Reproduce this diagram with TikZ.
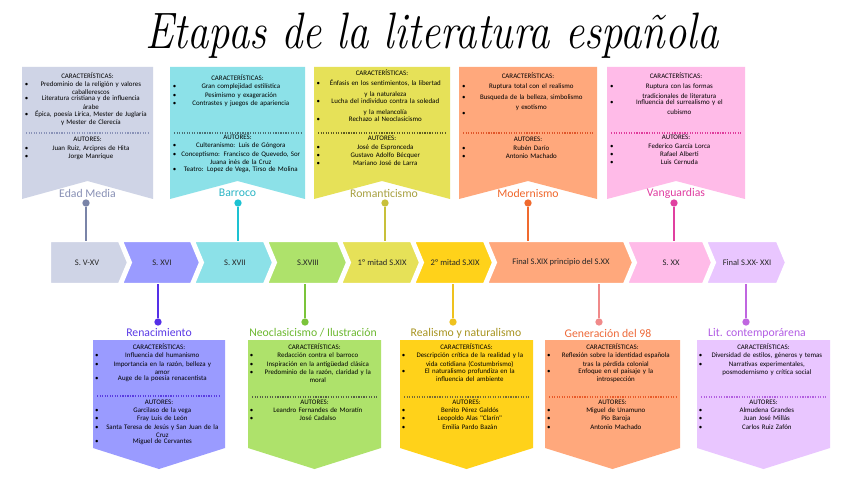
\documentclass[tikz,border=0pt]{standalone}
\usepackage{fontspec}
\usepackage{graphicx}
\usepackage{tikz}
\usepackage{xcolor}
\usetikzlibrary{positioning}
\newfontfamily\bodyfont{Carlito}

\definecolor{fEdad}{HTML}{CFD4E6}
\definecolor{fRena}{HTML}{9A9BFF}
\definecolor{fBarr}{HTML}{8CE1E8}
\definecolor{fNeo}{HTML}{AEE26B}
\definecolor{fRom}{HTML}{E6E158}
\definecolor{fReal}{HTML}{FFD21A}
\definecolor{fMod}{HTML}{FFA87C}
\definecolor{fVan}{HTML}{FFBBE8}
\definecolor{fLit}{HTML}{E9C6FF}

\definecolor{tEdad}{HTML}{8890B5}
\definecolor{tBarr}{HTML}{2BB5C5}
\definecolor{tRom}{HTML}{A8A040}
\definecolor{tMod}{HTML}{F0662A}
\definecolor{tVan}{HTML}{E03CA0}
\definecolor{tRena}{HTML}{5A3AE6}
\definecolor{tNeo}{HTML}{6CB830}
\definecolor{tReal}{HTML}{A89420}
\definecolor{tGen}{HTML}{EE6A3A}
\definecolor{tLit}{HTML}{B25CE4}

\definecolor{pEdad}{HTML}{7A84A8}
\definecolor{pBarr}{HTML}{1DC2D2}
\definecolor{pRom}{HTML}{C8C03A}
\definecolor{pMod}{HTML}{F06A2E}
\definecolor{pVan}{HTML}{E040A0}
\definecolor{pRena}{HTML}{5530E8}
\definecolor{pNeo}{HTML}{7BC43A}
\definecolor{pReal}{HTML}{EFC21E}
\definecolor{pGen}{HTML}{F08A8A}
\definecolor{pLit}{HTML}{C066E0}

\definecolor{sEdad}{HTML}{8A93B8}
\definecolor{sBarr}{HTML}{4A6F75}
\definecolor{sRom}{HTML}{5E5A20}
\definecolor{sMod}{HTML}{E0552A}
\definecolor{sVan}{HTML}{E03C9C}
\definecolor{sRena}{HTML}{5A3CE0}
\definecolor{sNeo}{HTML}{555F45}
\definecolor{sReal}{HTML}{7A6A30}
\definecolor{sGen}{HTML}{E85A2A}
\definecolor{sLit}{HTML}{B35FE0}

% bullet line: bullet on the left, text centred
\newcommand{\itm}[1]{\hbox to\linewidth{\makebox[5pt][l]{\textbullet}\parbox[t]{\dimexpr\linewidth-5pt\relax}{\centering #1}}}

\begin{document}
\begin{tikzpicture}[
    x=0.75pt, y=-0.75pt,
    chev/.style={draw=white, line width=1.6pt, line join=miter},
    tl/.style={font=\bodyfont\fontsize{6.4}{7}\selectfont, text=black!85, minimum height=32.25pt, inner sep=0pt},
    body/.style={font=\bodyfont\fontsize{5.2}{6.2}\selectfont, anchor=north, inner sep=0pt, align=center, text=black},
    sepline/.style={densely dotted, line width=0.9pt},
    lab/.style={font=\bodyfont\fontsize{8.8}{10}\selectfont},
    punto/.style={circle, inner sep=0pt, minimum size=5.5pt},
    poste/.style={line width=1.1pt}
]
\fill[white] (0,0) rectangle (848,477);
\useasboundingbox (0,0) rectangle (848,477);

\node[font=\fontsize{32}{36}\selectfont\itshape] (titulo) at (432,36) {\scalebox{1}[1.2]{Etapas de la literatura española}};

% linea de tiempo
\path[chev, fill=fEdad] (50,241) -- (119,241) -- (128,262.5) -- (119,284) -- (50,284) -- cycle;
\path[chev, fill=fRena] (122,241) -- (191,241) -- (200,262.5) -- (191,284) -- (122,284) -- (131,262.5) -- cycle;
\path[chev, fill=fBarr] (194,241) -- (264,241) -- (273,262.5) -- (264,284) -- (194,284) -- (203,262.5) -- cycle;
\path[chev, fill=fNeo] (267,241) -- (338,241) -- (347,262.5) -- (338,284) -- (267,284) -- (276,262.5) -- cycle;
\path[chev, fill=fRom] (341,241) -- (411,241) -- (420,262.5) -- (411,284) -- (341,284) -- (350,262.5) -- cycle;
\path[chev, fill=fReal] (414,241) -- (484,241) -- (493,262.5) -- (484,284) -- (414,284) -- (423,262.5) -- cycle;
\path[chev, fill=fMod] (487,241) -- (624,241) -- (633,262.5) -- (624,284) -- (487,284) -- (496,262.5) -- cycle;
\path[chev, fill=fVan] (627,241) -- (703,241) -- (712,262.5) -- (703,284) -- (627,284) -- (636,262.5) -- cycle;
\path[chev, fill=fLit] (706,241) -- (777,241) -- (786,262.5) -- (777,284) -- (706,284) -- (715,262.5) -- cycle;

\node[tl] (s1) at (87,262.5) {S. V-XV};
\node[tl] (s2) at (162,262.5) {S. XVI};
\node[tl] (s3) at (235,262.5) {S. XVII};
\node[tl] (s4) at (308,262.5) {S.XVIII};
\node[tl] (s5) at (382,262.5) {1º mitad S.XIX};
\node[tl] (s6) at (455,262.5) {2º mitad S.XIX};
\node[tl] (s7) at (561,262.5) {Final S.XIX principio del S.XX};
\node[tl] (s8) at (671,262.5) {S. XX};
\node[tl] (s9) at (747,262.5) {Final S.XX- XXI};

% Edad Media
\path[fill=fEdad] (22,67) -- (153,67) -- (153,199) -- (87.5,181) -- (22,199) -- cycle;
\node[body, text width=94pt] (emcar) at (87.5,72) {CARACTERÍSTICAS:\par
  \itm{Predominio de la religión y valores\\caballerescos}
  \itm{Literatura cristiana y de influencia\\árabe}
  \itm{Épica, poesía Lírica, Mester de Juglaría\\y Mester de Clerecía}};
\draw[sepline, draw=sEdad] (26,133) -- (150,133);
\node[body, text width=94pt] (emaut) at (87.5,137) {AUTORES:\par
  \itm{Juan Ruiz, Arcipres de Hita}
  \itm{Jorge Manrique}};
\node[lab, text=tEdad] (edad) at (87.5,193) {Edad Media};
\node[punto, fill=pEdad] (pedad) at (86,203) {};
\draw[poste, draw=pEdad] (pedad) -- (pedad |- s1.north);

% Barroco
\path[fill=fBarr] (170,67) -- (305,67) -- (305,199) -- (237.5,181) -- (170,199) -- cycle;
\node[body, text width=97pt, font=\bodyfont\fontsize{5.2}{6.4}\selectfont] (barcar) at (237.5,74) {CARACTERÍSTICAS:\par
  \itm{Gran complejidad estilística}
  \itm{Pesimismo y exageración}
  \itm{Contrastes y juegos de apariencia}};
\draw[sepline, draw=sBarr] (174,133) -- (301,133);
\node[body, text width=97pt, font=\bodyfont\fontsize{5.2}{6.4}\selectfont] (baraut) at (237.5,134.5) {AUTORES:\par
  \itm{Culteranismo: Luis de Góngora}
  \itm{Conceptismo: Francisco de Quevedo, Sor\\Juana inés de la Cruz}
  \itm{Teatro: Lopez de Vega, Tirso de Molina}};
\node[lab, text=tBarr] (barroco) at (237.5,193) {Barroco};
\node[punto, fill=pBarr] (pbarroco) at (238,203) {};
\draw[poste, draw=pBarr] (pbarroco) -- (pbarroco |- s3.north);

% Romanticismo
\path[fill=fRom] (314,67) -- (450,67) -- (450,199) -- (382,181) -- (314,199) -- cycle;
\node[body, text width=98pt, font=\bodyfont\fontsize{5.2}{8}\selectfont] (romcar) at (382,69) {CARACTERÍSTICAS:\par
  \itm{Énfasis en los sentimientos, la libertad\\y la naturaleza}
  \itm{Lucha del individuo contra la soledad\\y la melancolía}
  \itm{Rechazo al Neoclasicismo}};
\draw[sepline, draw=sRom] (318,133) -- (446,133);
\node[body, text width=98pt] (romaut) at (382,136) {AUTORES:\par
  \itm{José de Espronceda}
  \itm{Gustavo Adolfo Bécquer}
  \itm{Mariano José de Larra}};
\node[lab, text=tRom] (romanticismo) at (384,193) {Romanticismo};
\node[punto, fill=pRom] (promanticismo) at (385,203) {};
\draw[poste, draw=pRom] (promanticismo) -- (promanticismo |- s5.north);

% Modernismo
\path[fill=fMod] (459,67) -- (597,67) -- (597,199) -- (528,181) -- (459,199) -- cycle;
\node[body, text width=99pt, font=\bodyfont\fontsize{5.2}{7.8}\selectfont] (modcar) at (528,72.5) {CARACTERÍSTICAS:\par
  \itm{Ruptura total con el realismo}
  \itm{Busqueda de la belleza, simbolismo\\y exotismo}
  \itm{\mbox{}}};
\draw[sepline, draw=sMod] (463,133) -- (593,133);
\node[body, text width=99pt] (modaut) at (528,137) {AUTORES:\par
  \itm{Rubén Darío}
  \itm{Antonio Machado}};
\node[lab, text=tMod] (modernismo) at (528,193) {Modernismo};
\node[punto, fill=pMod] (pmodernismo) at (528,203) {};
\draw[poste, draw=pMod] (pmodernismo) -- (pmodernismo |- s7.north);

% Vanguardias
\path[fill=fVan] (607,67) -- (745,67) -- (745,199) -- (676,181) -- (607,199) -- cycle;
\node[body, text width=99pt, font=\bodyfont\fontsize{5.2}{7.5}\selectfont] (vancar) at (676,72.5) {CARACTERÍSTICAS:\par
  \itm{Ruptura con las formas\\tradicionales de literatura}
  \itm{Influencia del surrealismo y el\\cubismo}};
\draw[sepline, draw=sVan] (611,133) -- (741,133);
\node[body, text width=99pt] (vanaut) at (676,135) {AUTORES:\par
  \itm{Federico García Lorca}
  \itm{Rafael Alberti}
  \itm{Luis Cernuda}};
\node[lab, text=tVan] (vanguardias) at (676,193) {Vanguardias};
\node[punto, fill=pVan] (pvanguardias) at (674,203) {};
\draw[poste, draw=pVan] (pvanguardias) -- (pvanguardias |- s8.north);

% Renacimiento
\node[punto, fill=pRena] (prenacimiento) at (158,322) {};
\draw[poste, draw=pRena] (prenacimiento) -- (prenacimiento |- s2.south);
\node[lab, text=tRena] (renacimiento) at (159,333) {Renacimiento};
\path[fill=fRena] (93,340) -- (225,340) -- (225,448) -- (159,469) -- (93,448) -- cycle;
\node[body, text width=96pt] (rencar) at (159,343.5) {CARACTERÍSTICAS:\par
  \itm{Influencia del humanismo}
  \itm{Importancia en la razón, belleza y\\amor}
  \itm{Auge de la poesía renacentista}};
\draw[sepline, draw=sRena] (97,396) -- (221,396);
\node[body, text width=96pt] (renaut) at (159,399.5) {AUTORES:\par
  \itm{Garcilaso de la vega}
  \itm{Fray Luis de León}
  \itm{Santa Teresa de Jesús y San Juan de la\\Cruz}
  \itm{Miguel de Cervantes}};

% Neoclasicismo
\node[punto, fill=pNeo] (pneoclasicismo) at (305,322) {};
\draw[poste, draw=pNeo] (pneoclasicismo) -- (pneoclasicismo |- s4.south);
\node[lab, text=tNeo] (neoclasicismo) at (313,333) {Neoclasicismo / Ilustración};
\path[fill=fNeo] (248,340) -- (381,340) -- (381,448) -- (314.5,469) -- (248,448) -- cycle;
\node[body, text width=97pt] (neocar) at (314.5,343.5) {CARACTERÍSTICAS:\par
  \itm{Redacción contra el barroco}
  \itm{Inspiración en la antigüedad clásica}
  \itm{Predominio de la razón, claridad y la\\moral}};
\draw[sepline, draw=sNeo] (252,397) -- (377,397);
\node[body, text width=97pt] (neoaut) at (314.5,399.5) {AUTORES:\par
  \itm{Leandro Fernandes de Moratín}
  \itm{José Cadalso}};

% Realismo y naturalismo
\node[punto, fill=pReal] (prealismo) at (453,322) {};
\draw[poste, draw=pReal] (prealismo) -- (prealismo |- s6.south);
\node[lab, text=tReal] (realismo) at (466,333) {Realismo y naturalismo};
\path[fill=fReal] (400,340) -- (533,340) -- (533,448) -- (466.5,469) -- (400,448) -- cycle;
\node[body, text width=97pt] (realcar) at (466.5,343.5) {CARACTERÍSTICAS:\par
  \itm{Descripción crítica de la realidad y la\\vida cotidiana (Costumbrismo)}
  \itm{El naturalismo profundiza en la\\influencia del ambiente}};
\draw[sepline, draw=sReal] (404,397) -- (529,397);
\node[body, text width=97pt] (realaut) at (466.5,399.5) {AUTORES:\par
  \itm{Benito Pérez Galdós}
  \itm{Leopoldo Alas "Clarín"}
  \itm{Emilia Pardo Bazán}};

% Generacion del 98
\node[punto, fill=pGen] (pgeneracion) at (599,322) {};
\draw[poste, draw=pGen] (pgeneracion) -- (pgeneracion |- s7.south);
\node[lab, text=tGen] (generacion) at (608,333) {Generación del 98};
\path[fill=fMod] (545,340) -- (680,340) -- (680,448) -- (612.5,469) -- (545,448) -- cycle;
\node[body, text width=98pt] (gencar) at (612.5,343.5) {CARACTERÍSTICAS:\par
  \itm{Reflexión sobre la identidad española\\tras la pérdida colonial}
  \itm{Enfoque en el paisaje y la\\introspección}};
\draw[sepline, draw=sGen] (549,397) -- (676,397);
\node[body, text width=98pt] (genaut) at (612.5,399.5) {AUTORES:\par
  \itm{Miguel de Unamuno}
  \itm{Pío Baroja}
  \itm{Antonio Machado}};

% Literatura contemporanea
\node[punto, fill=pLit] (pcontemporanea) at (746,322) {};
\draw[poste, draw=pLit] (pcontemporanea) -- (pcontemporanea |- s9.south);
\node[lab, text=tLit] (contemporanea) at (757,333) {Lit. contemporárena};
\path[fill=fLit] (697,340) -- (830,340) -- (830,448) -- (763.5,469) -- (697,448) -- cycle;
\node[body, text width=97pt] (litcar) at (763.5,343.5) {CARACTERÍSTICAS:\par
  \itm{Diversidad de estilos, géneros y temas}
  \itm{Narrativas experimentales,\\posmodernismo y crítica social}};
\draw[sepline, draw=sLit] (701,397) -- (826,397);
\node[body, text width=97pt] (litaut) at (763.5,399.5) {AUTORES:\par
  \itm{Almudena Grandes}
  \itm{Juan José Millás}
  \itm{Carlos Ruiz Zafón}};

\end{tikzpicture}
\end{document}
